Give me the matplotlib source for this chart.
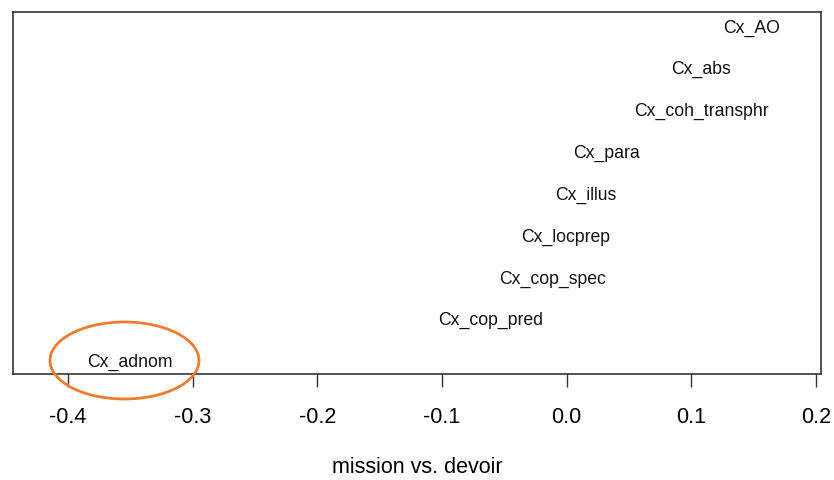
import numpy as np
import matplotlib
matplotlib.use('Agg')
import matplotlib.pyplot as plt
from matplotlib.patches import Ellipse

plt.rcParams['font.family'] = ['Liberation Sans', 'DejaVu Sans']
plt.rcParams['axes.unicode_minus'] = False

### data: constructions and their score on the mission vs. devoir dimension
labels = ['Cx_adnom', 'Cx_cop_pred', 'Cx_cop_spec', 'Cx_locprep', 'Cx_illus',
          'Cx_para', 'Cx_coh_transphr', 'Cx_abs', 'Cx_AO']
scores = [-0.350, -0.061, -0.011, -0.001, 0.015, 0.032, 0.108, 0.108, 0.148]
xticks = [-0.4, -0.3, -0.2, -0.1, 0.0, 0.1, 0.2]

fig = plt.figure(figsize=(8.34, 4.8), dpi=100)
ax = fig.add_axes([0.016, 0.2208, 0.9684, 0.7532])

ranks = np.arange(1, len(labels) + 1)
for x, y, lab in zip(scores, ranks, labels):
    ax.text(x, y, lab, ha='center', va='center_baseline', fontsize=12.7,
            color='#111111')

ax.set_xlim(-0.4438, 0.2039)
ax.set_ylim(0.68, 9.32)
ax.set_yticks([])
ax.set_xticks(xticks)
ax.set_xticklabels(['%.1f' % t for t in xticks], fontsize=15.5)
ax.tick_params(axis='x', length=9.4, width=1, pad=14, color='#333333')
for s in ax.spines.values():
    s.set_color('#333333')
    s.set_linewidth(1.2)
ax.set_xlabel('mission vs. devoir', fontsize=15.5, labelpad=21)

# orange circle highlighting Cx_adnom
ell = Ellipse((124.5 / 834, 1 - 360.5 / 480), 149 / 834, 77 / 480,
              transform=fig.transFigure, fill=False, edgecolor='#ED7D31',
              linewidth=2, clip_on=False)
fig.patches.append(ell)

fig.savefig('out.png', dpi=100)
